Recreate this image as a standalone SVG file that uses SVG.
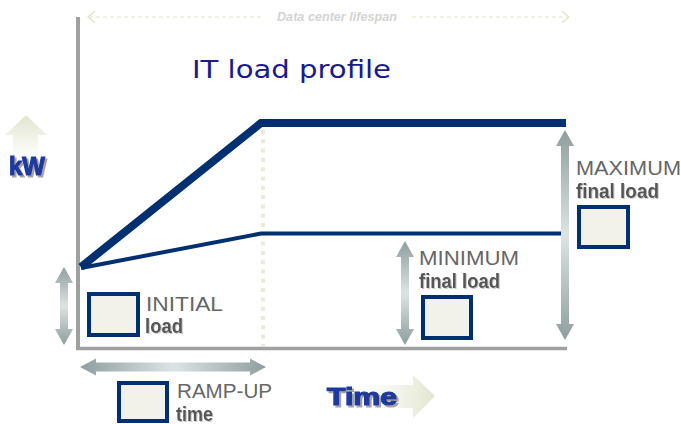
<svg xmlns="http://www.w3.org/2000/svg" width="681" height="424" viewBox="0 0 681 424">
<defs>
<linearGradient id="gv" x1="0" y1="0" x2="0" y2="1">
<stop offset="0" stop-color="#8e9e9e"/><stop offset="0.5" stop-color="#dde3e3"/><stop offset="1" stop-color="#8e9e9e"/>
</linearGradient>
<linearGradient id="gh" x1="0" y1="0" x2="1" y2="0">
<stop offset="0" stop-color="#8e9e9e"/><stop offset="0.5" stop-color="#dde3e3"/><stop offset="1" stop-color="#8e9e9e"/>
</linearGradient>
<linearGradient id="gup" x1="0" y1="0" x2="0" y2="1">
<stop offset="0" stop-color="#e2e5cf"/><stop offset="1" stop-color="#ffffff"/>
</linearGradient>
<linearGradient id="gright" x1="0" y1="0" x2="1" y2="0">
<stop offset="0" stop-color="#ffffff" stop-opacity="0"/><stop offset="1" stop-color="#e2e5cf"/>
</linearGradient>
<filter id="sh" x="-20%" y="-20%" width="140%" height="140%">
<feDropShadow dx="2" dy="2" stdDeviation="0.6" flood-color="#9a9a9a" flood-opacity="0.9"/>
</filter>
<filter id="sh2" x="-10%" y="-20%" width="120%" height="140%">
<feDropShadow dx="1" dy="1" stdDeviation="0.4" flood-color="#bbbbbb" flood-opacity="0.8"/>
</filter>
<style>
.box{fill:#f2f2ea;stroke:#003070;stroke-width:4}
.cap{font-family:"Liberation Sans",Arial,sans-serif;font-size:21px;fill:#666666}
.bold{font-family:"Liberation Sans",Arial,sans-serif;font-size:20px;font-weight:bold;fill:#555555;filter:url(#sh2)}
.big{font-family:"Liberation Sans",Arial,sans-serif;font-weight:bold;fill:#1c3a9c;stroke:#1c3a9c;stroke-width:1.2;filter:url(#sh)}
</style>
</defs>
<rect width="681" height="424" fill="#ffffff"/>

<g id="lifespan">
<line x1="89" y1="17" x2="264" y2="17" stroke="#dfe3c8" stroke-width="1.2" stroke-dasharray="4 3"/>
<line x1="412" y1="17" x2="568" y2="17" stroke="#dfe3c8" stroke-width="1.2" stroke-dasharray="4 3"/>
<polyline points="95,11 88,17 95,23" fill="none" stroke="#dfe3c8" stroke-width="1.2"/>
<polyline points="562,11 569,17 562,23" fill="none" stroke="#dfe3c8" stroke-width="1.2"/>
<text x="337" y="21" text-anchor="middle" font-family="Liberation Sans,Arial,sans-serif" font-size="12" font-style="italic" font-weight="bold" fill="#d4d4d4" textLength="120" lengthAdjust="spacingAndGlyphs">Data center lifespan</text>
</g>

<g id="kw">
<polygon points="26,115 47,135 38,135 38,158 13,158 13,135 5,135" fill="url(#gup)"/>
<text class="big" x="9" y="175" font-size="25" textLength="36" lengthAdjust="spacingAndGlyphs">kW</text>
</g>

<g id="title">
<text x="192" y="78" font-family="DejaVu Sans,Verdana,sans-serif" font-size="24" fill="#1a1a8c" textLength="199" lengthAdjust="spacingAndGlyphs">IT load profile</text>
</g>

<g id="axes">
<line x1="78" y1="17" x2="78" y2="350" stroke="#a0a0a0" stroke-width="4"/>
<line x1="76" y1="348.5" x2="567" y2="348.5" stroke="#a0a0a0" stroke-width="3.5"/>
</g>

<g id="connectors">
<line x1="263" y1="130" x2="263" y2="346" stroke="#e9ebdc" stroke-width="4" stroke-dasharray="4 5.3"/>
<polyline points="81,267 261,123 566,123" fill="none" stroke="#003070" stroke-width="8" stroke-linejoin="miter"/>
<polyline points="81,268 261,233.5 566,233.5" fill="none" stroke="#003070" stroke-width="4"/>
</g>

<g id="initial">
<polygon points="64,267 73,283 68,283 68,329 73,329 64,345 55,329 60,329 60,283 55,283" fill="url(#gv)"/>
<rect class="box" x="89" y="294" width="49" height="41"/>
<text class="cap" x="146" y="311" textLength="77" lengthAdjust="spacingAndGlyphs">INITIAL</text>
<text class="bold" x="145" y="333" textLength="38" lengthAdjust="spacingAndGlyphs">load</text>
</g>

<g id="rampup">
<polygon points="80,367 96,358.5 96,362.5 250,362.5 250,358.5 266,367 250,375.5 250,371.5 96,371.5 96,375.5" fill="url(#gh)"/>
<rect class="box" x="119" y="383" width="48" height="38"/>
<text class="cap" x="177" y="398" textLength="95" lengthAdjust="spacingAndGlyphs">RAMP-UP</text>
<text class="bold" x="176" y="421" textLength="37" lengthAdjust="spacingAndGlyphs">time</text>
</g>

<g id="time">
<polygon points="330,385 413,385 413,375 435,396 413,418 413,408 330,408" fill="url(#gright)"/>
<text class="big" x="327" y="405" font-size="24" textLength="70" lengthAdjust="spacingAndGlyphs">Time</text>
</g>

<g id="minimum">
<polygon points="405,241 414,257 409,257 409,329 414,329 405,345 396,329 401,329 401,257 396,257" fill="url(#gv)"/>
<text class="cap" x="419" y="265" textLength="100" lengthAdjust="spacingAndGlyphs">MINIMUM</text>
<text class="bold" x="419" y="288" textLength="81" lengthAdjust="spacingAndGlyphs">final load</text>
<rect class="box" x="423" y="297" width="48" height="41"/>
</g>

<g id="maximum">
<polygon points="565,130 574,146 569,146 569,324 574,324 565,340 556,324 561,324 561,146 556,146" fill="url(#gv)"/>
<text class="cap" x="576" y="175" textLength="105" lengthAdjust="spacingAndGlyphs">MAXIMUM</text>
<text class="bold" x="576" y="198" textLength="83" lengthAdjust="spacingAndGlyphs">final load</text>
<rect class="box" x="579" y="207" width="49" height="40"/>
</g>
</svg>
